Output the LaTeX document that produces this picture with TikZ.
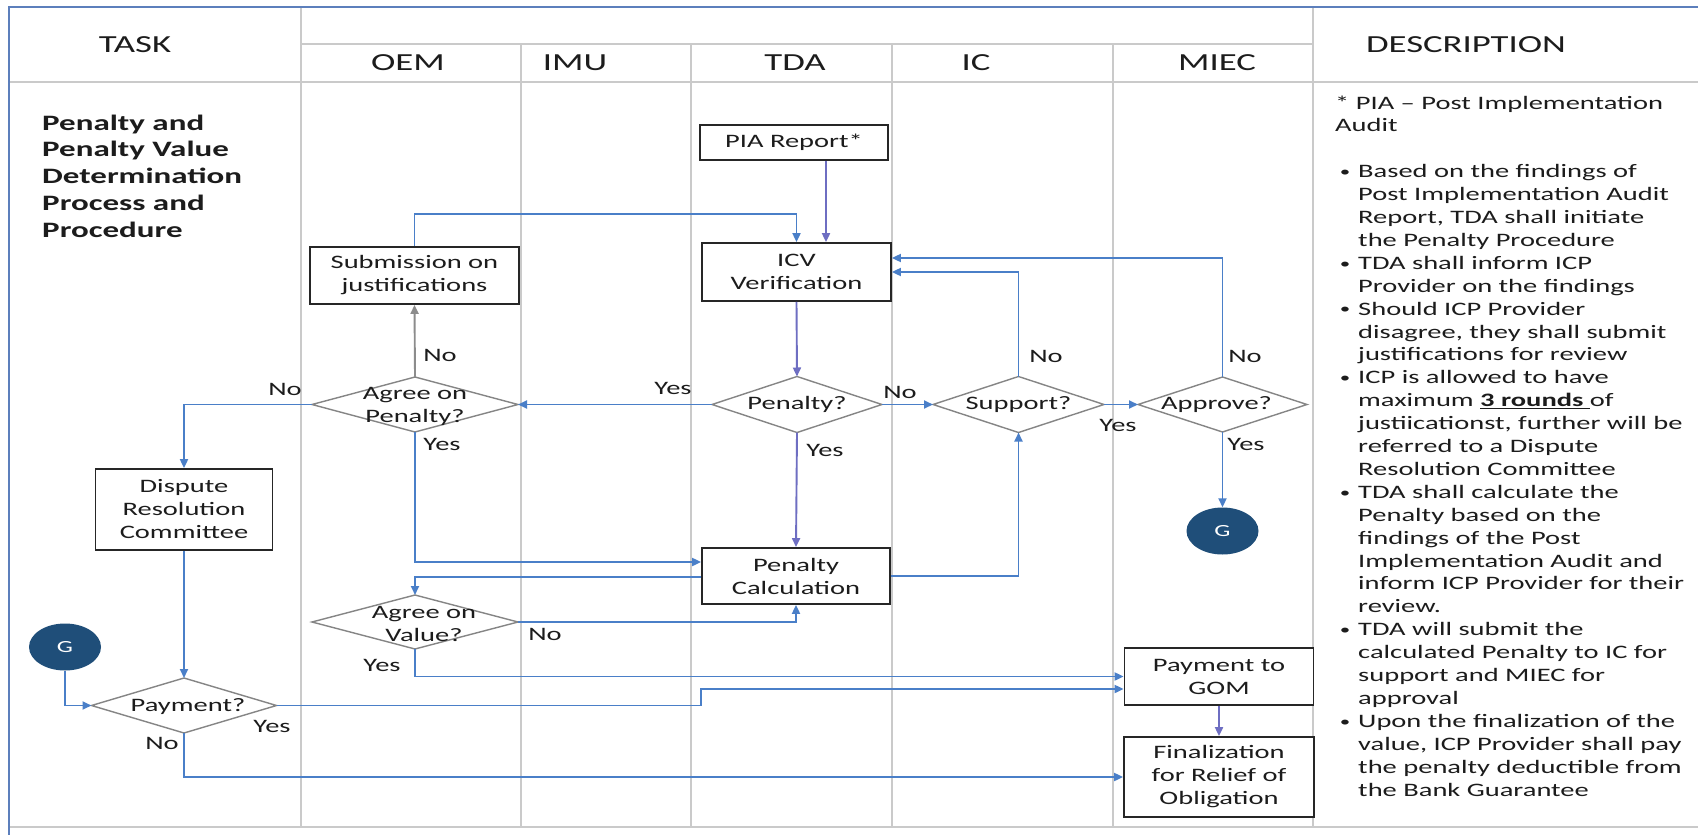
\documentclass[tikz,border=0pt]{standalone}
\usepackage{fontspec}
\setmainfont{Carlito}[FakeStretch=1.5]
\usetikzlibrary{arrows.meta,shapes.geometric,calc}

\definecolor{flowblue}{HTML}{4A7FC8}
\definecolor{flowpurple}{HTML}{6E6EC2}
\definecolor{flowgray}{HTML}{8C8C8C}
\definecolor{gridgray}{HTML}{CACACA}
\definecolor{frameblue}{HTML}{5C7FBC}
\definecolor{boxline}{HTML}{262626}
\definecolor{diamondline}{HTML}{858585}
\definecolor{navy}{HTML}{1F4E79}
\definecolor{ink}{HTML}{1C1C1C}

\newcommand\boxfont{\fontsize{19pt}{23pt}\selectfont}
\newcommand\headfont{\fontsize{24.5pt}{28pt}\selectfont}
\newcommand\titlefont{\fontsize{22pt}{26.75pt}\selectfont\bfseries}
% hanging bullet for the description list
\newcommand\descbullet{\llap{\raisebox{1.2pt}{\fontsize{14pt}{14pt}\selectfont\textbullet}\hspace{8pt}}}

\tikzset{
  gridline/.style={draw=gridgray, line width=1.6pt},
  box/.style={draw=boxline, line width=1.8pt, fill=white, align=center,
    inner sep=0pt, text=ink, font=\boxfont},
  decision/.style={diamond, draw=diamondline, line width=1.4pt, fill=white,
    inner sep=0pt, outer sep=0pt},
  dtext/.style={align=center, text=ink, font=\boxfont, inner sep=0pt},
  gconn/.style={ellipse, fill=navy, text=white, inner sep=0pt,
    font=\fontsize{17pt}{17pt}\selectfont},
  lab/.style={text=ink, font=\boxfont, inner sep=0pt},
  head/.style={text=ink, font=\headfont, inner sep=0pt},
  desc/.style={text=ink, font=\boxfont, inner sep=0pt, anchor=base west},
  flow/.style={draw=flowblue, line width=1.9pt,
    -{Triangle[length=9pt,width=8pt]}},
  flowp/.style={flow, draw=flowpurple},
  flowg/.style={flow, draw=flowgray},
}

\begin{document}
\begin{tikzpicture}[x=1pt, y=-1pt]
\useasboundingbox (0,0) rectangle (1698,835);
\fill[white] (0,0) rectangle (1698,835);

% swimlane grid
\draw[gridline] (9,82) -- (1698,82);
\draw[gridline] (301,44) -- (1313,44);
\draw[gridline] (9,827) -- (1698,827);
\draw[gridline] (301,7) -- (301,827);
\draw[gridline] (1313,7) -- (1313,827);
\foreach \lx in {521,691,892,1113}
  \draw[gridline] (\lx,44) -- (\lx,827);

% outer frame
\draw[frameblue, line width=2.6pt] (9,835) -- (9,7) -- (1698,7);

% column headings
\node[head] (hTask) at (135,45) {TASK};
\node[head] (hOEM)  at (408,63) {OEM};
\node[head] (hIMU)  at (575,63) {IMU};
\node[head] (hTDA)  at (795,63) {TDA};
\node[head] (hIC)   at (976,63) {IC};
\node[head] (hMIEC) at (1217,63) {MIEC};
\node[head] (hDesc) at (1466,45) {DESCRIPTION};

% task title
\foreach \txt [count=\i from 0] in {Penalty and, Penalty Value, Determination, Process and, Procedure}
  \node[text=ink, font=\titlefont, inner sep=0pt, anchor=base west] (title\i) at (42,130+26.75*\i) {\txt};

% process steps
\node[box, minimum width=188pt, minimum height=35pt] (PIA) at (794,142.5) {PIA Report*};
\node[box, minimum width=189pt, minimum height=58pt] (ICV) at (796.5,272) {ICV\\Verification};
\node[box, minimum width=209pt, minimum height=57pt] (SUB) at (414.5,275.5) {Submission on\\justifications};
\node[box, minimum width=177pt, minimum height=81pt] (DRC) at (184,509.5) {Dispute\\Resolution\\Committee};
\node[box, minimum width=188pt, minimum height=56pt] (CALC) at (796,576) {Penalty\\Calculation};
\node[box, minimum width=189pt, minimum height=57pt] (GOM) at (1219,676.5) {Payment to\\GOM};
\node[box, minimum width=190pt, minimum height=80pt] (FIN) at (1219,777) {Finalization\\for Relief of\\Obligation};

% decisions
\node[decision, minimum width=206pt, minimum height=55pt] (AP)  at (415,404.5) {};
\node[decision, minimum width=170pt, minimum height=56pt] (PEN) at (797,404.5) {};
\node[decision, minimum width=171pt, minimum height=56pt] (SUP) at (1018.5,404.5) {};
\node[decision, minimum width=169pt, minimum height=55pt] (APR) at (1222.5,404.5) {};
\node[decision, minimum width=206pt, minimum height=54pt] (AOV) at (415,622) {};
\node[decision, minimum width=185pt, minimum height=55pt] (PAY) at (184,705.5) {};

\node[dtext] (APt)  at ($(AP)+(0,2)$) {Agree on\\Penalty?};
\node[dtext] (PENt) at (PEN) {Penalty?};
\node[dtext] (SUPt) at (SUP) {Support?};
\node[dtext] (APRt) at ($(APR)+(-6,0)$) {Approve?};
\node[dtext] (AOVt) at ($(AOV)+(9,2)$) {Agree on\\Value?};
\node[dtext] (PAYt) at ($(PAY)+(4,1)$) {Payment?};

% off-page connectors
\node[gconn, minimum width=72pt, minimum height=47pt] (G2) at (1222.5,531) {G};
\node[gconn, minimum width=72pt, minimum height=47pt] (G1) at (65,647) {G};

% flow
\coordinate (piaOut) at ($(PIA.south)+(32,0)$);
\draw[flowp] (piaOut) -- (piaOut |- ICV.north);
\draw[flow] (SUB.north) |- ($(ICV.north)+(0,-28)$) -- (ICV.north);
\draw[flowp] (ICV.south) -- (PEN.north);
\draw[flow] (PEN.west) -- (AP.east);
\draw[flowg] (AP.north) -- (SUB.south);
\draw[flow] (AP.west) -| (DRC.north);
\draw[flow] (AP.south) |- ($(CALC.west)+(0,-14)$);
\draw[flow] (PEN.east) -- (SUP.west);
\draw[flowp] (PEN.south) -- (CALC.north);
\draw[flow] ($(CALC.west)+(0,1)$) -| (AOV.north);
\draw[flow] (CALC.east) -| (SUP.south);
\draw[flow] (SUP.north) |- (ICV.east);
\draw[flow] (SUP.east) -- (APR.west);
\draw[flow] (APR.north) |- ($(ICV.east)+(0,-14)$);
\draw[flow] (APR.south) -- (G2.north);
\draw[flow] (AOV.east) -| (CALC.south);
\draw[flow] (AOV.south) |- (GOM.west);
\draw[flow] (PAY.east) -- (PAY.east -| CALC.west) |- ($(GOM.west)+(0,12.5)$);
\draw[flow] (PAY.south) |- (FIN.west);
\draw[flow] (DRC.south) -- (PAY.north);
\draw[flow] (G1.south) |- (PAY.west);
\draw[flowp] (GOM.south) -- (FIN.north);

% branch labels
\node[lab] (lAPno)   at (440,355) {No};
\node[lab] (lAPno2)  at (285,389) {No};
\node[lab] (lAPyes)  at (442,444) {Yes};
\node[lab] (lPENyes) at (673,388) {Yes};
\node[lab] (lPENno)  at (900,392) {No};
\node[lab] (lPENyes2) at (825,450) {Yes};
\node[lab] (lSUPno)  at (1046,356) {No};
\node[lab] (lSUPyes) at (1118,425) {Yes};
\node[lab] (lAPRno)  at (1245,356) {No};
\node[lab] (lAPRyes) at (1246,444) {Yes};
\node[lab] (lAOVno)  at (545,634) {No};
\node[lab] (lAOVyes) at (382,665) {Yes};
\node[lab] (lPAYyes) at (272,726) {Yes};
\node[lab] (lPAYno)  at (162,743) {No};

% description column
\foreach \k/\xx/\txt in {
  0/1335/{* PIA – Post Implementation},
  1/1335/{Audit},
  3/1358/{\descbullet Based on the findings of},
  4/1358/{Post Implementation Audit},
  5/1358/{Report, TDA shall initiate},
  6/1358/{the Penalty Procedure},
  7/1358/{\descbullet TDA shall inform ICP},
  8/1358/{Provider on the findings},
  9/1358/{\descbullet Should ICP Provider},
  10/1358/{disagree, they shall submit},
  11/1358/{justifications for review},
  12/1358/{\descbullet ICP is allowed to have},
  13/1358/{maximum \underline{\textbf{3 rounds }}of},
  14/1358/{justiicationst, further will be},
  15/1358/{referred to a Dispute},
  16/1358/{Resolution Committee},
  17/1358/{\descbullet TDA shall calculate the},
  18/1358/{Penalty based on the},
  19/1358/{findings of the Post},
  20/1358/{Implementation Audit and},
  21/1358/{inform ICP Provider for their},
  22/1358/{review.},
  23/1358/{\descbullet TDA will submit the},
  24/1358/{calculated Penalty to IC for},
  25/1358/{support and MIEC for},
  26/1358/{approval},
  27/1358/{\descbullet Upon the finalization of the},
  28/1358/{value, ICP Provider shall pay},
  29/1358/{the penalty deductible from},
  30/1358/{the Bank Guarantee}}
  \node[desc] (d\k) at (\xx,109+22.9*\k) {\txt};

\end{tikzpicture}
\end{document}
